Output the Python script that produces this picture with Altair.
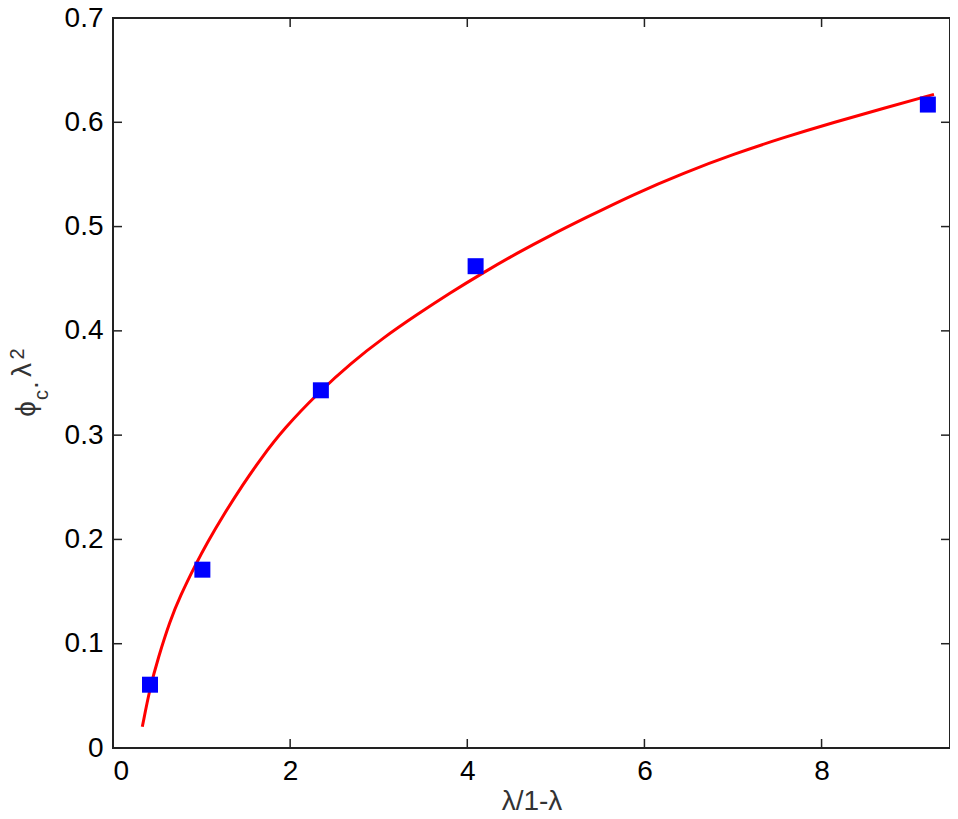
import altair as alt
import pandas as pd

# measured points (blue squares)
pts_x = [0.418, 1.009, 2.347, 4.094, 9.20]
pts_y = [0.0607, 0.171, 0.343, 0.462, 0.617]

# fitted curve (red)
fit_x = [0.331, 0.418, 0.512, 0.644, 0.757, 0.945, 1.058, 1.247, 1.473, 1.661,
         1.925, 2.347, 2.678, 3.054, 3.431, 3.808, 4.184, 4.561, 4.938, 5.314,
         5.879, 6.444, 7.009, 7.574, 8.139, 8.704, 9.269]
fit_y = [0.0203, 0.058, 0.087, 0.122, 0.1455, 0.178, 0.196, 0.2235, 0.2535, 0.2765,
         0.306, 0.343, 0.3685, 0.3935, 0.4155, 0.4365, 0.456, 0.4745, 0.4915, 0.5075,
         0.531, 0.5515, 0.5695, 0.5855, 0.600, 0.6135, 0.6268]

x_ticks = [0, 2, 4, 6, 8]
y_ticks = [0, 0.1, 0.2, 0.3, 0.4, 0.5, 0.6, 0.7]

W, H = 837, 730
TOP = 10
FONT = "Liberation Sans"
LAB = 28

pts = pd.DataFrame({"x": pts_x, "y": pts_y})
fit = pd.DataFrame({"x": fit_x, "y": fit_y})
xt = pd.DataFrame({"v": x_ticks})
yt = pd.DataFrame({"v": y_ticks})
one = pd.DataFrame({"a": [0]})

xs = alt.Scale(domain=[0, 9.45], nice=False, zero=False)
ys = alt.Scale(domain=[0, 0.7], nice=False, zero=False)

xaxis = alt.Axis(values=x_ticks, format="~g", ticks=False, domain=False, grid=False,
                 labelFont=FONT, labelFontSize=LAB, labelColor="black", labelPadding=9,
                 title=None)
yaxis = alt.Axis(values=y_ticks, format="~g", ticks=False, domain=False, grid=False,
                 labelFont=FONT, labelFontSize=LAB, labelColor="black", labelPadding=10,
                 title=None)

line = alt.Chart(fit).mark_line(color="#ff0000", strokeWidth=3, interpolate="basis").encode(
    x=alt.X("x:Q", scale=xs, axis=xaxis),
    y=alt.Y("y:Q", scale=ys, axis=yaxis),
)
points = alt.Chart(pts).mark_point(shape="square", filled=True, color="#0000ff", size=256, opacity=1).encode(
    x=alt.X("x:Q", scale=xs),
    y=alt.Y("y:Q", scale=ys),
)

TL = 9
tick_col = "#222222"
xb = alt.Chart(xt).mark_rule(color=tick_col, strokeWidth=1.5).encode(
    x=alt.X("v:Q", scale=xs), y=alt.value(H), y2=alt.value(H - TL))
xtop = alt.Chart(xt).mark_rule(color=tick_col, strokeWidth=1.5).encode(
    x=alt.X("v:Q", scale=xs), y=alt.value(0), y2=alt.value(TL))
yl = alt.Chart(yt).mark_rule(color=tick_col, strokeWidth=1.5).encode(
    y=alt.Y("v:Q", scale=ys), x=alt.value(0), x2=alt.value(TL))
yr = alt.Chart(yt).mark_rule(color=tick_col, strokeWidth=1.5).encode(
    y=alt.Y("v:Q", scale=ys), x=alt.value(W), x2=alt.value(W - TL))

def ttext(t, size, x, y, angle=270, baseline="middle"):
    return alt.Chart(one).mark_text(text=t, font=FONT, fontSize=size, angle=angle,
                                    align="center", baseline=baseline, color="#333333").encode(
        x=alt.value(x), y=alt.value(y))

title_parts = [
    ttext("ϕ", LAB, -86, 391),
    ttext("c", 20, -71, 377),
    ttext(".", LAB, -83, 367),
    ttext("λ", LAB, -90, 352),
    ttext("2", 20, -95, 336),
    ttext("λ/1-λ", LAB, 419, H + 62, angle=0, baseline="alphabetic"),
]

chart = alt.layer(xb, xtop, yl, yr, line, points, *title_parts).properties(
    width=W, height=H,
    autosize=alt.AutoSizeParams(type="none"),
    padding={"left": 105, "top": TOP, "right": 0, "bottom": 63},
    background="white",
).configure_view(stroke="#222222", strokeWidth=2)

chart.save("out.html", embed_options={"renderer": "svg", "actions": False})
